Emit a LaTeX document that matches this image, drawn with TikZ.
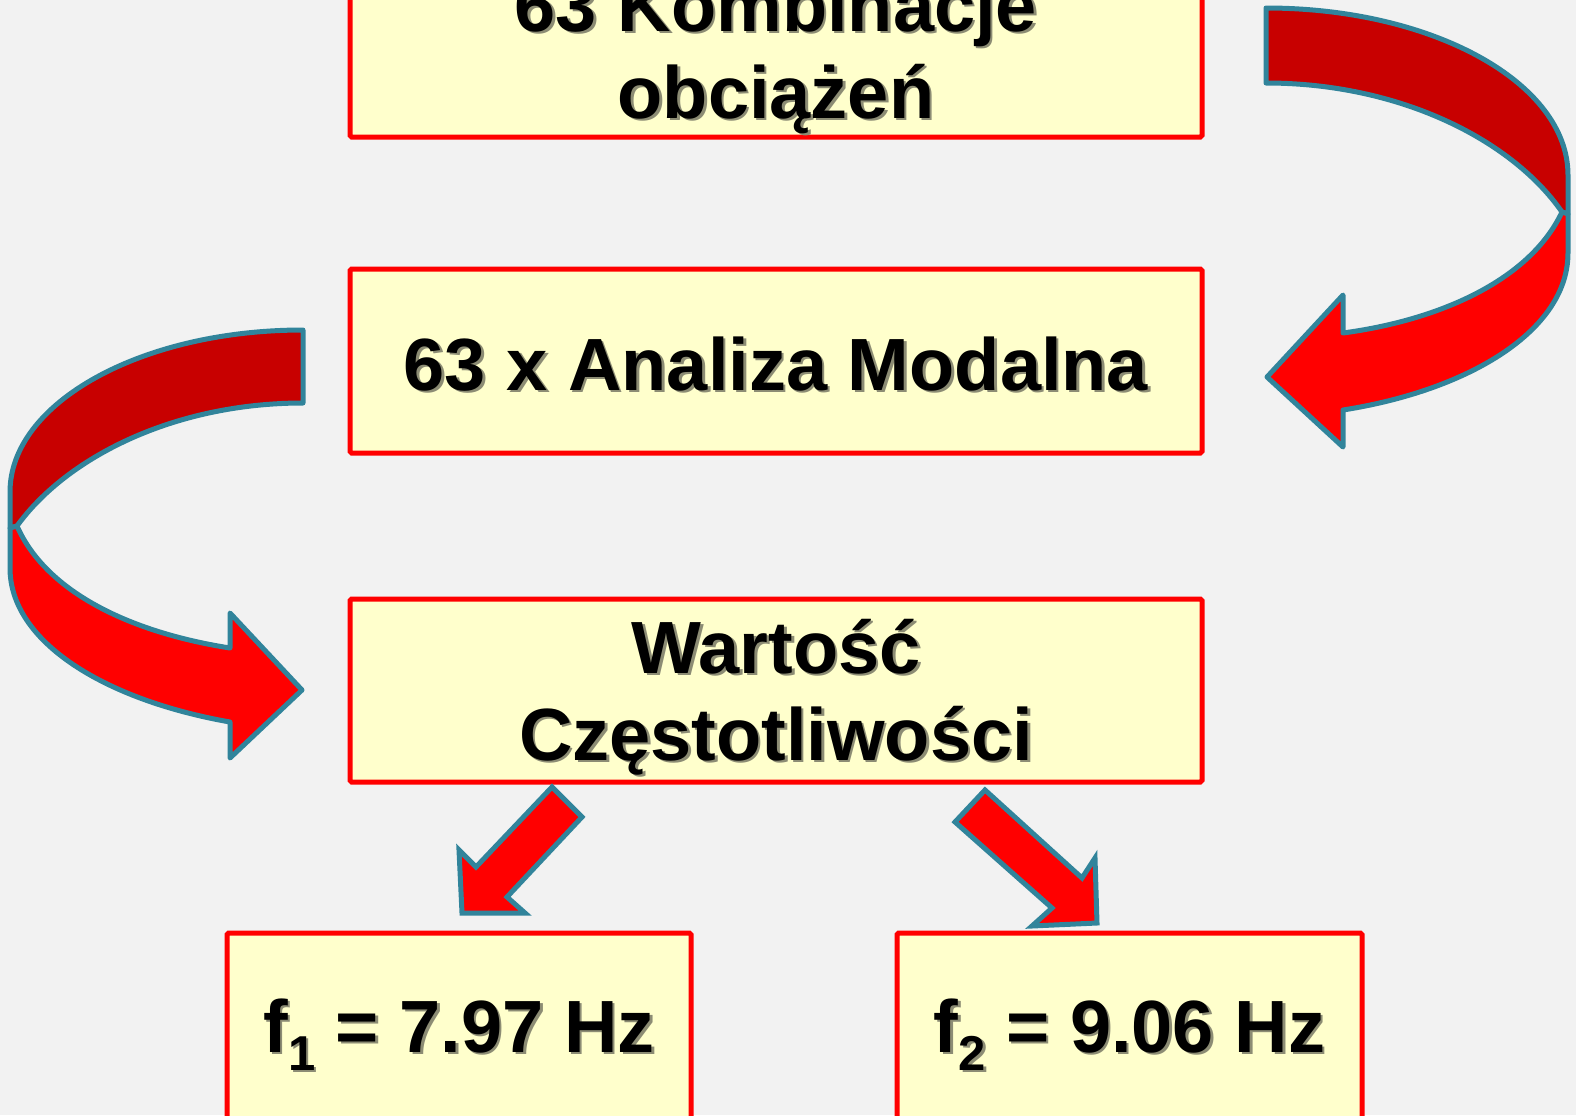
\documentclass[tikz,border=0pt]{standalone}
\usepackage{fontspec}
\setmainfont{Liberation Sans}
\definecolor{pagebg}{HTML}{F2F2F2}
\definecolor{boxfill}{HTML}{FFFFCC}
\definecolor{boxline}{HTML}{FF0000}
\definecolor{arrowline}{HTML}{31849B}
\definecolor{bandback}{HTML}{C80000}
\definecolor{bandfront}{HTML}{FF0000}
\definecolor{txtshadow}{HTML}{8C8C74}
% bold text with a soft drop shadow below right
\newcommand\shadowed[1]{\makebox[0pt][l]{\kern1.3pt\raisebox{-1.3pt}{\textcolor{txtshadow}{#1}}}#1}
% lowered index, as in f_1
\newcommand\lowsub[1]{\raisebox{-9pt}{\fontsize{24.5}{24.5}\selectfont #1}}
\begin{document}
\begin{tikzpicture}[x=0.5pt,y=-0.5pt,
  flowbox/.style={draw=boxline, fill=boxfill, line width=2.5pt, rectangle,
    rounded corners=0.8pt, inner sep=0pt},
  boxtext/.style={anchor=base, inner sep=0pt, font=\fontsize{37}{43.5}\selectfont\bfseries},
  backband/.style={draw=arrowline, fill=bandback, line width=2.5pt, line join=round},
  frontband/.style={draw=arrowline, fill=bandfront, line width=2.5pt, line join=round},
  blockarrow/.style={draw=arrowline, fill=bandfront, line width=2.5pt, line join=miter}]
\fill[pagebg] (0,0) rectangle (1576,1115);
\useasboundingbox (0,0) rectangle (1576,1115);

% boxes
\node[flowbox, minimum width=426pt, minimum height=91pt] (komb) at (776,46) {};
\node[flowbox, minimum width=426pt, minimum height=92pt] (modal) at (776,361) {};
\node[flowbox, minimum width=426pt, minimum height=91.5pt] (wart) at (776,690.5) {};
\node[flowbox, minimum width=232pt, minimum height=96pt] (fone) at (459,1029) {};
\node[flowbox, minimum width=232.5pt, minimum height=96pt] (ftwo) at (1129.5,1029) {};

% box texts
\node[boxtext] (kombA) at (776,31) {\shadowed{63 Kombinacje}};
\node[boxtext] (kombB) at (776,118) {\shadowed{obciążeń}};
\node[boxtext] (modalA) at (776,390) {\shadowed{63 x Analiza Modalna}};
\node[boxtext] (wartA) at (776,673) {\shadowed{Wartość}};
\node[boxtext] (wartB) at (776,760) {\shadowed{Częstotliwości}};
\node[boxtext] (foneA) at (459,1052) {\shadowed{f\lowsub{1} = 7.97 Hz}};
\node[boxtext] (ftwoA) at (1129.5,1052) {\shadowed{f\lowsub{2} = 9.06 Hz}};

% curved arrow on the right: from the load combinations to the modal analysis
\draw[backband] (1266,8) .. controls (1433,8) and (1568,83) .. (1568,175)
  -- (1568,214) -- (1562,212) .. controls (1512,140) and (1400,83) .. (1266,83) -- cycle;
\draw[frontband] (1562,212) .. controls (1530,280) and (1440,320) .. (1343,333)
  -- (1343,295) -- (1267,377) -- (1343,447) -- (1343,410)
  .. controls (1470,390) and (1568,330) .. (1568,253) -- (1568,214) -- cycle;

% curved arrow on the left: from the modal analysis to the frequencies
\draw[backband] (303,330) .. controls (141,330) and (10,403) .. (10,492)
  -- (10,528) -- (17,526) .. controls (66,458) and (173,403) .. (303,403) -- cycle;
\draw[frontband] (17,526) .. controls (47,594) and (134,633) .. (230,648)
  -- (230,613) -- (302,690) -- (230,758) -- (230,722)
  .. controls (105,700) and (10,642) .. (10,568) -- (10,528) -- cycle;

% straight arrows down to the two frequencies
\draw[blockarrow] (552,787) -- (582,817) -- (507,897) -- (525,913) -- (462,913)
  -- (459,850) -- (476,867) -- cycle;
\draw[blockarrow] (985,790) -- (1082,878) -- (1095,858) -- (1097,923) -- (1032,926)
  -- (1052,908) -- (955,822) -- cycle;
\end{tikzpicture}
\end{document}
